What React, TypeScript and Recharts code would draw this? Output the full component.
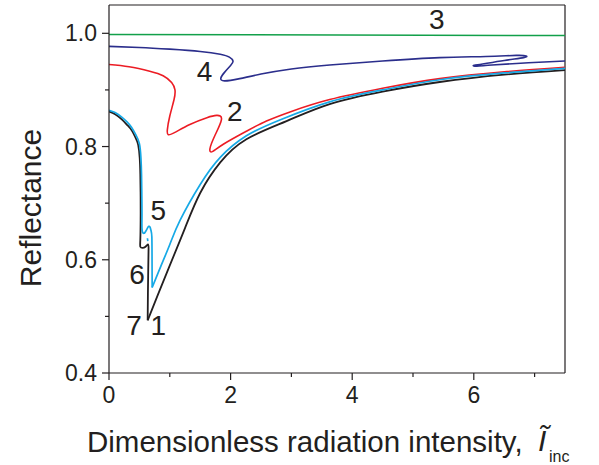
import { LineChart, Line, XAxis, YAxis, ReferenceLine, ReferenceDot } from "recharts";

const INK = "#231f20";
const FONT = "'Liberation Sans', Arial, Helvetica, sans-serif";

const xTicks = [0, 1, 2, 3, 4, 5, 6, 7];
const xLabels = [0, 2, 4, 6];
const yTicks = [0.4, 0.5, 0.6, 0.7, 0.8, 0.9, 1.0];
const yLabels = [0.4, 0.6, 0.8, 1.0];

// curve 3 (green)
const curve3 = [
  [0, 0.998],
  [7.5, 0.996],
];

// curve 4 (dark blue)
const curve4 = [
  [0, 0.977], [0.5, 0.975], [1.0, 0.972], [1.5, 0.968], [1.83, 0.963], [1.98, 0.958],
  [2.04, 0.951], [2.0, 0.943], [1.9, 0.931], [1.84, 0.921], [1.9, 0.916], [2.15, 0.92],
  [2.5, 0.928], [3.0, 0.937], [3.63, 0.944], [4.5, 0.951], [5.44, 0.957], [6.2, 0.959],
  [6.7, 0.961], [6.86, 0.96], [6.82, 0.957], [6.5, 0.952], [6.1, 0.945], [5.99, 0.943],
  [6.05, 0.942], [6.3, 0.944], [6.9, 0.948], [7.5, 0.951],
];

// curve 2 (red)
const curve2 = [
  [0, 0.945], [0.33, 0.941], [0.67, 0.933], [0.89, 0.925], [1.03, 0.913], [1.085, 0.9],
  [1.07, 0.883], [1.0, 0.854], [0.96, 0.83], [0.975, 0.821], [1.085, 0.825], [1.33, 0.839],
  [1.61, 0.851], [1.77, 0.855], [1.85, 0.848], [1.74, 0.819], [1.66, 0.796], [1.7, 0.791],
  [1.88, 0.804], [2.26, 0.827], [2.59, 0.845], [3.0, 0.862], [3.63, 0.883], [4.5, 0.903],
  [5.44, 0.92], [6.5, 0.932], [7.5, 0.94],
];

// curves 1 / 7 (black), split at the cusp
const curve1Left = [
  [0, 0.862], [0.1, 0.857], [0.21, 0.848], [0.3, 0.838], [0.37, 0.829], [0.44, 0.815],
  [0.48, 0.803], [0.505, 0.78], [0.515, 0.75], [0.52, 0.71], [0.52, 0.67], [0.515, 0.635],
  [0.515, 0.623], [0.55, 0.621], [0.6, 0.623], [0.645, 0.627], [0.65, 0.615], [0.645, 0.58],
  [0.64, 0.54], [0.636, 0.493],
];
const curve1Right = [
  [0.636, 0.493], [0.8, 0.537], [1.0, 0.59], [1.25, 0.656], [1.5, 0.718], [1.83, 0.772],
  [2.26, 0.813], [2.92, 0.845], [3.63, 0.875], [4.5, 0.897], [5.44, 0.914], [6.5, 0.927],
  [7.5, 0.935],
];

// curves 5 / 6 (light blue), split at the cusp
const curve6Left = [
  [0, 0.864], [0.1, 0.86], [0.21, 0.852], [0.3, 0.843], [0.37, 0.834], [0.44, 0.821],
  [0.5, 0.805], [0.525, 0.78], [0.535, 0.75], [0.54, 0.71], [0.542, 0.675], [0.545, 0.652],
  [0.59, 0.648], [0.655, 0.659], [0.69, 0.652], [0.705, 0.64], [0.708, 0.6], [0.71, 0.551],
];
const curve6Right = [
  [0.71, 0.551], [0.85, 0.588], [1.0, 0.627], [1.17, 0.67], [1.5, 0.733], [1.83, 0.781],
  [2.26, 0.819], [2.81, 0.847], [3.63, 0.879], [4.5, 0.9], [5.44, 0.918], [6.5, 0.93],
  [7.5, 0.938],
];
const curve5Dot = [
  [0.632, 0.638],
  [0.638, 0.633],
];

// curve number labels
const curveLabels = [
  { text: "3", x: 5.39, y: 1.025 },
  { text: "4", x: 1.57, y: 0.933 },
  { text: "2", x: 2.07, y: 0.862 },
  { text: "5", x: 0.81, y: 0.687 },
  { text: "6", x: 0.46, y: 0.574 },
  { text: "7", x: 0.41, y: 0.484 },
  { text: "1", x: 0.81, y: 0.484 },
];

const pts = (arr: number[][]) => arr.map(([x, y]) => ({ x, y }));

function XTick({ x, y, payload }: any) {
  const y0 = y - 11;
  const major = xLabels.includes(payload.value);
  return (
    <g>
      <line x1={x} x2={x} y1={y0} y2={y0 + (major ? 7 : 4)} stroke={INK} strokeWidth={1.2} />
      {major && (
        <text x={x} y={y0 + 30} textAnchor="middle" fontSize={23} fill={INK} fontFamily={FONT}>
          {payload.value}
        </text>
      )}
    </g>
  );
}

function YTick({ x, y, payload }: any) {
  const x0 = x + 11;
  const major = yLabels.includes(payload.value);
  return (
    <g>
      <line x1={x0} x2={x0 - (major ? 7 : 4)} y1={y} y2={y} stroke={INK} strokeWidth={1.2} />
      {major && (
        <text x={x0 - 12} y={y + 8} textAnchor="end" fontSize={23} fill={INK} fontFamily={FONT}>
          {Number(payload.value).toFixed(1)}
        </text>
      )}
    </g>
  );
}

function XTitle({ viewBox }: any) {
  const top = viewBox.y;
  return (
    <g fontFamily={FONT} fill={INK}>
      <text x={87} y={top + 79} fontSize={29.5}>
        Dimensionless radiation intensity,
      </text>
      <text x={538} y={top + 78} fontSize={30} fontStyle="italic">
        Ĩ
      </text>
      <text x={549} y={top + 89} fontSize={16}>
        inc
      </text>
    </g>
  );
}

function YTitle({ viewBox }: any) {
  const cx = viewBox.x + 30;
  const cy = viewBox.y + viewBox.height / 2 + 19;
  return (
    <text
      x={cx}
      y={cy}
      transform={`rotate(-90 ${cx} ${cy})`}
      textAnchor="middle"
      dominantBaseline="central"
      fontSize={30}
      fill={INK}
      fontFamily={FONT}
    >
      Reflectance
    </text>
  );
}

const series = [
  { key: "c3", data: curve3, color: "#12a04a", width: 1.6 },
  { key: "c4", data: curve4, color: "#2b2e8c", width: 1.6 },
  { key: "c2", data: curve2, color: "#ec1c24", width: 1.6 },
  { key: "c1l", data: curve1Left, color: INK, width: 1.8 },
  { key: "c1r", data: curve1Right, color: INK, width: 1.8 },
  { key: "c6l", data: curve6Left, color: "#16a9e6", width: 1.7 },
  { key: "c6r", data: curve6Right, color: "#16a9e6", width: 1.7 },
  { key: "c5", data: curve5Dot, color: "#16a9e6", width: 1.7 },
];

export default function App() {
  return (
    <div style={{ position: "absolute", left: 0, top: 0, background: "#fff" }}>
      <LineChart width={599} height={465} margin={{ top: 5, right: 34, left: 0, bottom: 0 }}>
        <XAxis
          dataKey="x"
          type="number"
          domain={[0, 7.5]}
          ticks={xTicks}
          interval={0}
          allowDataOverflow
          height={92}
          tickSize={7}
          tickMargin={4}
          tickLine={false}
          tick={<XTick />}
          axisLine={{ stroke: INK, strokeWidth: 1.2 }}
          label={{ content: <XTitle /> }}
        />
        <YAxis
          type="number"
          domain={[0.4, 1.05]}
          ticks={yTicks}
          interval={0}
          allowDataOverflow
          width={109}
          tickSize={7}
          tickMargin={4}
          tickLine={false}
          tick={<YTick />}
          axisLine={{ stroke: INK, strokeWidth: 1.2 }}
          label={{ content: <YTitle /> }}
        />
        <ReferenceLine x={7.5} stroke={INK} strokeWidth={1.2} />
        <ReferenceLine y={1.05} stroke={INK} strokeWidth={1.2} />
        {series.map((s) => (
          <Line
            key={s.key}
            data={pts(s.data)}
            dataKey="y"
            type="natural"
            stroke={s.color}
            strokeWidth={s.width}
            dot={false}
            activeDot={false}
            isAnimationActive={false}
          />
        ))}
        {curveLabels.map((l) => (
          <ReferenceDot
            key={l.text}
            x={l.x}
            y={l.y}
            r={1}
            fill="none"
            stroke="none"
            label={{ value: l.text, position: "center", fontSize: 28, fill: INK, fontFamily: FONT }}
          />
        ))}
      </LineChart>
    </div>
  );
}
